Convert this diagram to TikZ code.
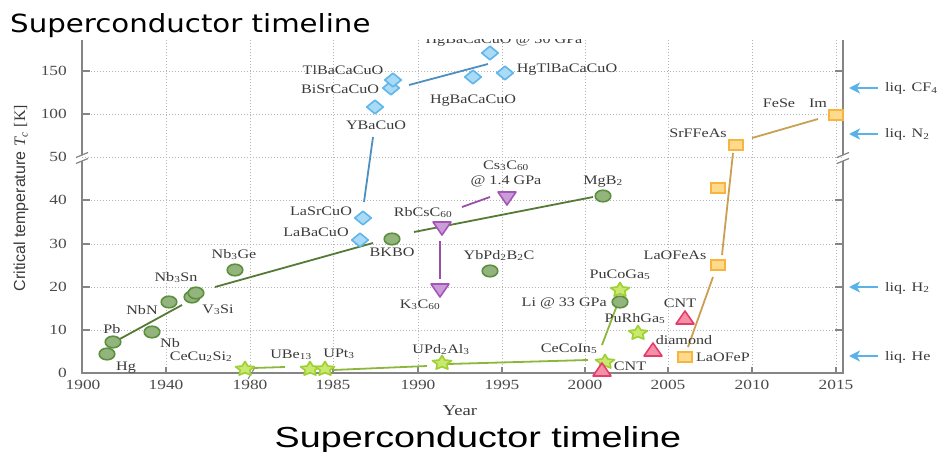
\documentclass[tikz,border=0pt]{standalone}
\usepackage{fontspec}
\setmainfont[FakeStretch=1.24]{Liberation Serif}
\newfontfamily\ttlfont[FakeStretch=1.17]{DejaVu Sans}
\newfontfamily\captfont[FakeStretch=1.3]{Liberation Sans}
\newfontfamily\ysans{Liberation Sans}
\newfontfamily\yserif{Liberation Serif}
\usetikzlibrary{arrows.meta}

\definecolor{axisgray}{HTML}{858585}
\definecolor{gridgray}{HTML}{B4B4B4}
\definecolor{labtxt}{HTML}{3A3A3A}
\definecolor{ticktxt}{HTML}{4A4A4A}
\definecolor{convfill}{HTML}{93B57D}
\definecolor{convedge}{HTML}{5C8F3F}
\definecolor{convline}{HTML}{557A35}
\definecolor{hffill}{HTML}{C8E86E}
\definecolor{hfedge}{HTML}{9FD033}
\definecolor{hfline}{HTML}{8CB63C}
\definecolor{cupfill}{HTML}{AADAF5}
\definecolor{cupedge}{HTML}{5FB6EA}
\definecolor{cupline}{HTML}{4D8FC0}
\definecolor{fulfill}{HTML}{CB9DD8}
\definecolor{fuledge}{HTML}{A456B8}
\definecolor{fulline}{HTML}{9A4FA8}
\definecolor{cfill}{HTML}{F390A6}
\definecolor{cedge}{HTML}{E63B6B}
\definecolor{fefill}{HTML}{FFD98C}
\definecolor{feedge}{HTML}{F7B43F}
\definecolor{feline}{HTML}{C9A052}
\definecolor{liqblue}{HTML}{5AB3E8}

\begin{document}
\begin{tikzpicture}[x=1pt,y=-1pt,
  axisline/.style={draw=axisgray, line width=2pt},
  gridline/.style={draw=gridgray, line width=0.7pt, dash pattern=on 1pt off 2pt},
  lbl/.style={font=\fontsize{13}{15}\selectfont, text=labtxt, inner sep=0pt, anchor=base},
  ticklbl/.style={font=\fontsize{14}{16}\selectfont, text=ticktxt, inner sep=0pt},
  convtrend/.style={draw=convline, line width=1.8pt},
  hftrend/.style={draw=hfline, line width=1.8pt},
  cuptrend/.style={draw=cupline, line width=1.8pt},
  fultrend/.style={draw=fulline, line width=1.8pt},
  fetrend/.style={draw=feline, line width=1.8pt},
  liqarrow/.style={draw=liqblue, line width=2.6pt, -{Stealth[length=11pt,width=11pt,inset=3pt]}},
  pics/convmark/.style={code={\draw[fill=convfill, draw=convedge, line width=1.6pt] (0,0) ellipse [x radius=7.8pt, y radius=5.8pt];}},
  pics/hfmark/.style={code={\draw[fill=hffill, draw=hfedge, line width=1.6pt, line join=round]
     (0,-7.5) -- (2.9,-3) -- (9.5,-2.3) -- (4.8,1.2) -- (5.9,6.1) -- (0,3.75) -- (-5.9,6.1) -- (-4.8,1.2) -- (-9.5,-2.3) -- (-2.9,-3) -- cycle;}},
  pics/cupmark/.style={code={\draw[fill=cupfill, draw=cupedge, line width=1.6pt, line join=round] (-8.3,0) -- (0,-6.8) -- (8.3,0) -- (0,6.8) -- cycle;}},
  pics/fulmark/.style={code={\draw[fill=fulfill, draw=fuledge, line width=1.6pt, line join=round] (-9,-6) -- (9,-6) -- (0,7) -- cycle;}},
  pics/cmark/.style={code={\draw[fill=cfill, draw=cedge, line width=1.6pt, line join=round] (0,-7) -- (9,6) -- (-9,6) -- cycle;}},
  pics/femark/.style={code={\draw[fill=fefill, draw=feedge, line width=1.6pt] (-7,-5) rectangle (7,5);}}
]
\useasboundingbox (0,0) rectangle (938,452);

% grid
\foreach \gy in {330,287,244,200,157,114,71} \draw[gridline] (82,\gy) -- (843,\gy);
\foreach \gx in {166,250,333,418,502,585,668,752,836} \draw[gridline] (\gx,40) -- (\gx,373);

% axes with breaks at 50 K
\draw[axisline] (82,40) -- (82,155);
\draw[axisline] (82,161) -- (82,373) -- (843,373) -- (843,161);
\draw[axisline] (843,155) -- (843,40);
\foreach \ax in {82,843} {
  \draw[axisgray, line width=1.2pt] (\ax-6,157.5) -- (\ax+6,152.5);
  \draw[axisgray, line width=1.2pt] (\ax-6,163.5) -- (\ax+6,158.5);
}
\draw[axisgray, line width=1.1pt] (248,379) -- (254,369);
\foreach \ty in {330,287,244,200,114,71} {
  \draw[axisline] (82,\ty) -- (90,\ty);
  \draw[axisline] (843,\ty) -- (835,\ty);
}
\foreach \tx in {166,250,333,418,502,585,668,752,836} \draw[axisline] (\tx,373) -- (\tx,367);

% tick labels
\foreach \ty/\tv in {373/0,330/10,287/20,244/30,200/40,157/50,114/100,71/150}
  \node[ticklbl, anchor=east] (yt\tv) at (67,\ty) {\tv};
\foreach \tx/\tv in {83/1900,166/1940,250/1980,333/1985,418/1990,502/1995,585/2000,668/2005,752/2010,836/2015}
  \node[ticklbl] (xt\tv) at (\tx,385) {\tv};

% axis titles
\node[rotate=90, font=\fontsize{16}{18}\selectfont, text=labtxt, inner sep=0pt] (ylab) at (21,198)
  {{\ysans Critical temperature} {\yserif\itshape T}\textsubscript{\yserif\itshape c} {\yserif [K]}};
\node[font=\fontsize{15}{17}\selectfont, text=labtxt, anchor=base, inner sep=0pt] (xlab) at (460,415) {Year};
\node[anchor=base west, font=\ttlfont\fontsize{25}{30}\selectfont, inner sep=0pt] (ttl) at (10,33) {Superconductor timeline};
\node[anchor=base, font=\captfont\fontsize{29}{34}\selectfont, inner sep=0pt] (capt) at (478,447) {Superconductor timeline};

% trend lines
\coordinate (c1a) at (118,340); \coordinate (c1b) at (182,305);
\coordinate (c2a) at (215,287); \coordinate (c2b) at (373,243);
\coordinate (c3a) at (414,232); \coordinate (c3b) at (593,197);
\draw[convtrend] (c1a) -- (c1b);
\draw[convtrend] (c2a) -- (c2b);
\draw[convtrend] (c3a) -- (c3b);
\coordinate (h1a) at (253,368); \coordinate (h1b) at (285,367);
\coordinate (h2a) at (333,370); \coordinate (h2b) at (427,366);
\coordinate (h3a) at (448,364); \coordinate (h3b) at (588,360);
\coordinate (h4a) at (602,345); \coordinate (h4b) at (619,300);
\draw[hftrend] (h1a) -- (h1b);
\draw[hftrend] (h2a) -- (h2b);
\draw[hftrend] (h3a) -- (h3b);
\draw[hftrend] (h4a) -- (h4b);
\coordinate (u1a) at (364,202); \coordinate (u1b) at (373,137);
\coordinate (u2a) at (409,85); \coordinate (u2b) at (488,64);
\draw[cuptrend] (u1a) -- (u1b);
\draw[cuptrend] (u2a) -- (u2b);
\coordinate (f1a) at (440,241); \coordinate (f1b) at (440,279);
\coordinate (f2a) at (462,207); \coordinate (f2b) at (490,197);
\draw[fultrend] (f1a) -- (f1b);
\draw[fultrend] (f2a) -- (f2b);
\coordinate (e1a) at (688,347); \coordinate (e1b) at (713,277);
\coordinate (e2a) at (722,255); \coordinate (e2b) at (733,153);
\coordinate (e3a) at (752,138); \coordinate (e3b) at (818,119);
\draw[fetrend] (e1a) -- (e1b);
\draw[fetrend] (e2a) -- (e2b);
\draw[fetrend] (e3a) -- (e3b);

% heavy fermions
\foreach \px/\py in {245/369,310/369,325/369,442/363,605/362,620/290,638/333}
  \pic at (\px,\py) {hfmark};
% conventional
\foreach \px/\py in {107/354,113/342,152/332,169/302,192/297,196/293,235/270,392/239,490/271,603/196,620/302}
  \pic at (\px,\py) {convmark};
% cuprates
\foreach \px/\py in {360/240,363/218,375/107,391/88,393/80,473/77,490/53,505/73}
  \pic at (\px,\py) {cupmark};
% fullerides
\foreach \px/\py in {442/228,440/290,507/198}
  \pic at (\px,\py) {fulmark};
% carbon
\foreach \px/\py in {602/370,653/350,685/318}
  \pic at (\px,\py) {cmark};
% iron based
\foreach \px/\py in {685/357,718/265,718/188,736/145,836/115}
  \pic at (\px,\py) {femark};

% labels
\node[lbl] (lHg) at (126,370) {Hg};
\node[lbl] (lPb) at (112,333) {Pb};
\node[lbl] (lNb) at (170,347) {Nb};
\node[lbl] (lNbN) at (142,314) {NbN};
\node[lbl] (lVSi) at (218,313) {V\textsubscript{3}Si};
\node[lbl] (lNbSn) at (176,281) {Nb\textsubscript{3}Sn};
\node[lbl] (lNbGe) at (234,258) {Nb\textsubscript{3}Ge};
\node[lbl] (lBKBO) at (392,256) {BKBO};
\node[lbl] (lYbPd) at (499,259) {YbPd\textsubscript{2}B\textsubscript{2}C};
\node[lbl] (lMgB) at (603,184) {MgB\textsubscript{2}};
\node[lbl, anchor=base east] (lLi) at (607,306) {Li @ 33 GPa};

\node[lbl] (lCeCu) at (201,360) {CeCu\textsubscript{2}Si\textsubscript{2}};
\node[lbl] (lUBe) at (291,358) {UBe\textsubscript{13}};
\node[lbl] (lUPt) at (339,357) {UPt\textsubscript{3}};
\node[lbl] (lUPd) at (441,353) {UPd\textsubscript{2}Al\textsubscript{3}};
\node[lbl] (lCeCo) at (569,352) {CeCoIn\textsubscript{5}};
\node[lbl] (lPuCo) at (620,278) {PuCoGa\textsubscript{5}};
\node[lbl] (lPuRh) at (635,322) {PuRhGa\textsubscript{5}};

\node[lbl] (lLaBa) at (316,236) {LaBaCuO};
\node[lbl] (lLaSr) at (321,215) {LaSrCuO};
\node[lbl] (lYBa) at (376,129) {YBaCuO};
\node[lbl] (lBiSr) at (340,93) {BiSrCaCuO};
\node[lbl] (lTlBa) at (343,75) {TlBaCaCuO};
\node[lbl] (lHgBa) at (473,103) {HgBaCaCuO};
\node[lbl] (lHgTl) at (567,73) {HgTlBaCaCuO};
\begin{scope}
  \clip (400,39.5) rectangle (620,50);
  \node[lbl] (lHgP) at (504,44) {HgBaCaCuO @ 30 GPa};
\end{scope}

\node[lbl] (lRbCs) at (423,216) {RbCsC\textsubscript{60}};
\node[lbl] (lKC) at (420,308) {K\textsubscript{3}C\textsubscript{60}};
\node[lbl] (lCsC) at (506,169) {Cs\textsubscript{3}C\textsubscript{60}};
\node[lbl] (lCsP) at (506,184) {@ 1.4 GPa};

\node[lbl] (lCNTa) at (630,370) {CNT};
\node[lbl] (ldia) at (684,344) {diamond};
\node[lbl] (lCNTb) at (680,307) {CNT};

\node[lbl] (lLaP) at (723,361) {LaOFeP};
\node[lbl] (lLaAs) at (675,259) {LaOFeAs};
\node[lbl] (lSrF) at (698,138) {SrFFeAs};
\node[lbl] (lFeSe) at (779,108) {FeSe};
\node[lbl] (lIm) at (818,108) {Im};

% coolant reference levels
\foreach \nm/\ly/\txt in {cf/88/{liq. CF\textsubscript{4}}, nn/134/{liq. N\textsubscript{2}}, hh/287/{liq. H\textsubscript{2}}, he/356/{liq. He}} {
  \coordinate (\nm tail) at (878,\ly);
  \coordinate (\nm head) at (849,\ly);
  \draw[liqarrow] (\nm tail) -- (\nm head);
  \node[lbl, anchor=base west] (\nm lab) at (885,\ly+4) {\txt};
}
\end{tikzpicture}
\end{document}
